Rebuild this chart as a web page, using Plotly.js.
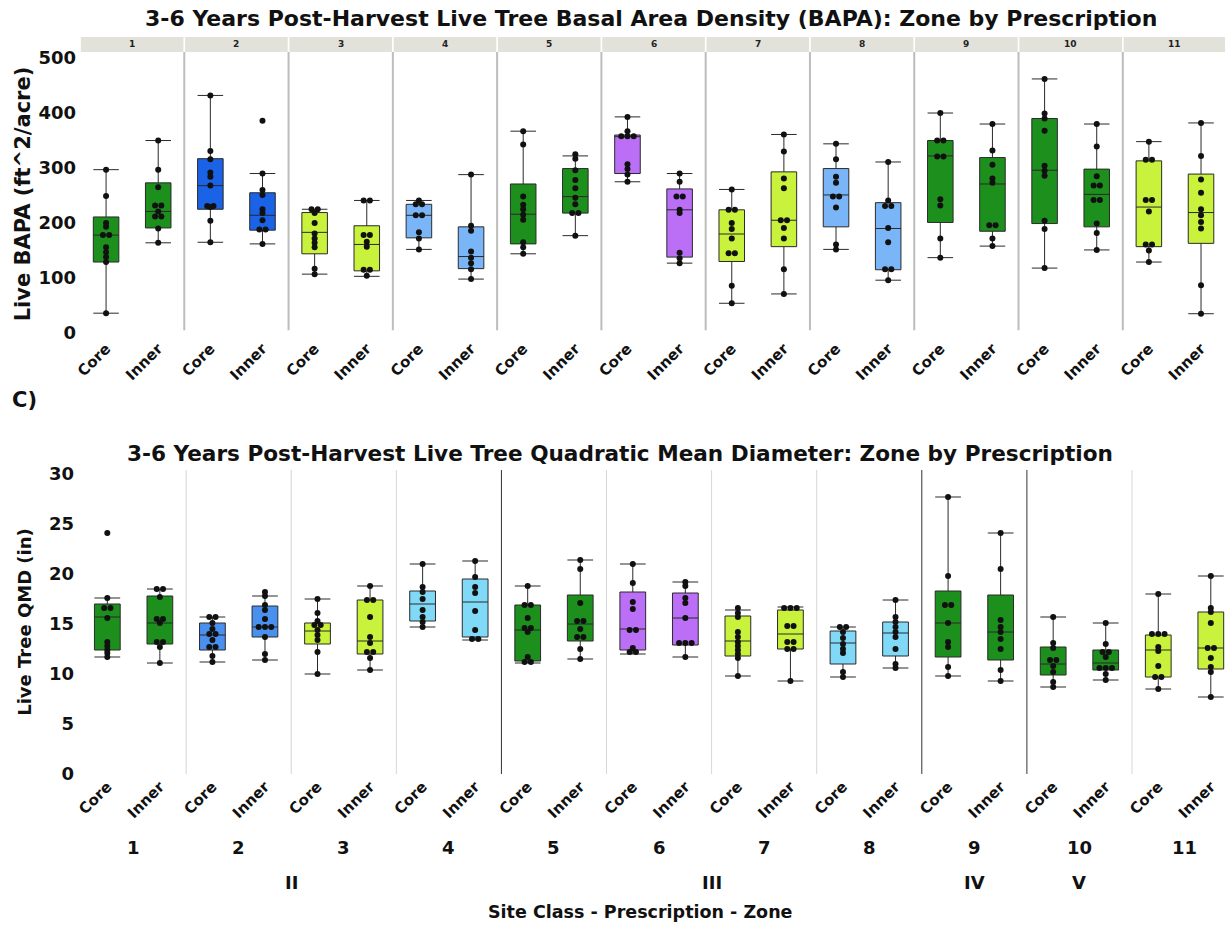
<!DOCTYPE html>
<html><head><meta charset="utf-8">
<script src="https://cdn.plot.ly/plotly-3.0.1.min.js"></script>
<style>body{margin:0;background:#fff}#chart{width:1225px;height:925px}</style>
</head><body><div id="chart"></div>
<script>
// ---------- categories ----------
const prescriptions = ['1','2','3','4','5','6','7','8','9','10','11'];
const zones = ['Core','Inner'];
const siteClassLabels = ['II','III','IV','V'];
const siteClassFirst = [1,5,9,10];
const siteClassLast  = [4,8,9,10];

// ---------- colours by prescription ----------
const bapaColors = ['#1d8f1d','#1a62e6','#c9f23c','#7ab6f7','#1d8f1d','#bb6ff7','#c9f23c','#7ab6f7','#1d8f1d','#1d8f1d','#c9f23c'];
const qmdColors  = ['#1d8f1d','#4a90ee','#c9f23c','#80d9f7','#1d8f1d','#bb6ff7','#c9f23c','#80d9f7','#1d8f1d','#1d8f1d','#c9f23c'];

// ---------- BAPA (ft^2/acre) ----------
const bapaCorePoints = [
  [297,249,200,193,178,178,156,147,138,129,36],
  [432,331,316,292,284,268,231,231,229,204,165],
  [225,225,218,200,181,172,164,156,117,107],
  [241,234,234,214,214,183,172,152],
  [367,343,248,233,225,215,206,165,156,144],
  [393,367,358,358,358,307,298,288,275],
  [261,224,224,200,189,172,145,145,86,54],
  [344,316,284,273,248,248,228,161,152],
  [400,350,350,321,321,243,232,172,137],
  [462,399,390,368,304,295,286,204,189,118],
  [348,315,315,242,242,221,161,161,150,129]
];
const bapaInnerPoints = [
  [350,297,265,232,232,221,212,212,190,164],
  [386,290,260,251,225,218,205,188,188,162],
  [241,241,178,178,166,157,115,115,104],
  [288,195,186,148,137,127,116,98],
  [325,317,296,278,263,246,234,218,218,177],
  [290,275,248,248,224,218,146,136,127],
  [361,330,281,263,205,205,191,172,116,71],
  [311,241,231,231,191,165,116,116,96],
  [380,332,306,281,273,196,196,172,158],
  [380,339,285,268,268,242,242,199,182,151],
  [382,322,279,255,225,214,202,190,87,35]
];
const bapaCoreLow    = [36,165,107,152,144,275,54,152,137,118,129];
const bapaCoreQ1     = [129,225,144,173,162,290,130,193,201,199,157];
const bapaCoreMedian = [178,268,183,214,216,357,180,251,322,296,229];
const bapaCoreQ3     = [211,317,219,234,271,360,224,299,350,390,313];
const bapaCoreHigh   = [297,432,225,241,367,393,261,344,400,462,348];
const bapaInnerLow    = [164,162,103,98,177,127,71,96,158,151,35];
const bapaInnerQ1     = [191,187,113,117,218,138,157,115,185,193,163];
const bapaInnerMedian = [221,214,161,139,248,224,205,190,271,252,219];
const bapaInnerQ3     = [273,255,195,193,299,262,293,237,319,298,289];
const bapaInnerHigh   = [350,290,241,288,322,290,361,311,380,380,382];

// ---------- QMD (in) ----------
const qmdCorePoints = [
  [24.1,17.6,16.6,16.6,15.6,13.2,12.8,12.4,12.1,11.7],
  [15.7,15.7,15.1,14.5,14.0,14.0,13.4,12.7,12.7,11.8,11.2],
  [17.5,16.1,15.3,14.9,14.9,14.4,13.9,13.4,12.2,10.0],
  [21.0,18.7,18.2,17.5,16.4,15.7,15.2,14.7],
  [18.8,16.9,16.9,15.6,14.6,14.6,14.2,11.7,11.2,11.2],
  [21.0,19.1,17.2,16.5,14.4,14.4,12.6,12.2,12.2],
  [16.6,16.1,15.7,14.2,13.7,13.2,12.8,12.4,12.0,11.6,9.8],
  [14.7,14.7,14.2,13.6,13.0,12.5,12.1,10.2,9.7],
  [27.7,19.8,16.9,16.9,15.1,13.2,12.7,10.7,9.8],
  [15.7,13.1,12.6,11.4,11.4,10.8,10.2,9.2,8.7],
  [18.0,14.0,14.0,14.0,12.7,12.3,10.8,9.7,9.7,8.5]
];
const qmdInnerPoints = [
  [18.5,18.5,17.7,15.5,15.5,15.1,13.2,13.2,12.7,11.1],
  [18.2,17.8,16.9,16.4,15.5,14.7,14.7,14.7,13.7,12.0,11.4],
  [18.8,17.4,17.4,15.7,13.7,13.1,12.2,12.2,11.6,10.4],
  [21.3,19.7,18.7,18.1,16.3,14.4,13.5,13.5],
  [21.4,20.5,17.1,15.3,15.3,14.5,13.7,13.7,12.5,11.5],
  [19.2,18.8,17.6,17.1,15.6,13.1,13.1,13.1,11.7],
  [16.6,16.6,16.6,14.8,14.8,13.2,13.2,12.5,12.5,9.3],
  [17.4,15.7,15.2,14.7,14.2,13.7,12.5,11.0,10.6],
  [24.1,20.5,15.4,14.7,14.2,13.5,12.5,10.4,9.3],
  [15.1,13.0,12.2,12.2,11.7,10.6,10.6,10.6,10.0,9.4],
  [19.8,16.6,16.2,15.1,12.6,12.6,11.6,10.7,10.2,7.7]
];
const qmdCoreLow    = [11.7,11.2,10.0,14.7,11.1,12.0,9.8,9.7,9.8,8.7,8.5];
const qmdCoreQ1     = [12.4,12.4,13.0,15.3,11.3,12.4,11.8,11.0,11.7,9.9,9.7];
const qmdCoreMedian = [15.7,13.9,14.3,17.0,14.4,14.5,13.3,13.1,15.1,11.0,12.4];
const qmdCoreQ3     = [17.0,15.1,15.1,18.3,16.9,18.2,15.8,14.3,18.3,12.7,13.9];
const qmdCoreHigh   = [17.6,15.7,17.5,21.0,18.8,21.0,16.4,14.7,27.7,15.7,18.0];
const qmdInnerLow    = [11.1,11.4,10.4,13.4,11.5,11.7,9.3,10.6,9.3,9.4,7.7];
const qmdInnerQ1     = [13.0,13.7,12.0,13.7,13.3,12.9,12.5,11.8,11.4,10.4,10.5];
const qmdInnerMedian = [15.1,14.7,13.3,17.2,15.0,15.6,14.0,14.1,14.2,11.1,12.6];
const qmdInnerQ3     = [17.8,16.8,17.4,19.5,17.9,18.1,16.4,15.2,17.9,12.4,16.2];
const qmdInnerHigh   = [18.5,17.8,18.8,21.3,21.4,19.2,16.7,17.4,24.1,15.1,19.8];

// ---------- build ----------
const FONT = 'DejaVu Sans, sans-serif';
const zoneOffset = [0.25, 0.75];
const boxWidth = 0.245;
const dotStep = 0.06;

function swarm(vals, center){
  const seen = {}, counts = {};
  vals.forEach(v => counts[v] = (counts[v]||0)+1);
  return vals.map(v => {
    const k = counts[v]; const i = seen[v] = (seen[v]===undefined?0:seen[v]+1);
    return center + (i-(k-1)/2)*dotStep;
  });
}

const traces = [];
function addPanel(xa, ya, colors, stats){
  const px = [], py = [];
  prescriptions.forEach((p, i) => {
    stats.forEach((s, z) => {
      const xpos = i + zoneOffset[z];
      traces.push({
        type:'box', xaxis:xa, yaxis:ya, x:[xpos],
        q1:[s.q1[i]], median:[s.med[i]], q3:[s.q3[i]],
        lowerfence:[s.lo[i]], upperfence:[s.hi[i]],
        width:boxWidth, whiskerwidth:1, boxpoints:false,
        fillcolor:colors[i], line:{color:'#2a2a2a', width:1},
        hoverinfo:'skip', showlegend:false
      });
      const xs = swarm(s.pts[i], xpos);
      px.push(...xs); py.push(...s.pts[i]);
    });
  });
  traces.push({type:'scatter', mode:'markers', xaxis:xa, yaxis:ya, x:px, y:py,
    marker:{color:'#111', size:6}, hoverinfo:'skip', showlegend:false});
}
addPanel('x','y', bapaColors, [
  {pts:bapaCorePoints, lo:bapaCoreLow, q1:bapaCoreQ1, med:bapaCoreMedian, q3:bapaCoreQ3, hi:bapaCoreHigh},
  {pts:bapaInnerPoints, lo:bapaInnerLow, q1:bapaInnerQ1, med:bapaInnerMedian, q3:bapaInnerQ3, hi:bapaInnerHigh}
]);
addPanel('x2','y2', qmdColors, [
  {pts:qmdCorePoints, lo:qmdCoreLow, q1:qmdCoreQ1, med:qmdCoreMedian, q3:qmdCoreQ3, hi:qmdCoreHigh},
  {pts:qmdInnerPoints, lo:qmdInnerLow, q1:qmdInnerQ1, med:qmdInnerMedian, q3:qmdInnerQ3, hi:qmdInnerHigh}
]);

const tickvals = [], ticktext = [];
prescriptions.forEach((p,i) => zones.forEach((z,k) => { tickvals.push(i+zoneOffset[k]); ticktext.push(z); }));

const H = 925;
const py = px => 1 - px/H;
const shapes = [], annotations = [];

// top strip + separators
prescriptions.forEach((p,i) => {
  shapes.push({type:'rect', xref:'x', yref:'paper', x0:i+0.008, x1:i+0.992, y0:py(52), y1:py(37),
    fillcolor:'#e2e2da', line:{width:0}, layer:'below'});
  annotations.push({xref:'x', yref:'paper', x:i+0.5, y:py(44.5), text:'<b>'+p+'</b>', showarrow:false,
    font:{family:FONT, size:9, color:'#222'}, yanchor:'middle'});
  if (i>0) {
    shapes.push({type:'line', xref:'x', yref:'y domain', x0:i, x1:i, y0:0.02, y1:1,
      line:{color:'#bdbdbd', width:2}, layer:'below'});
    const isClass = siteClassFirst.includes(i+1) ;
    shapes.push({type:'line', xref:'x2', yref:'y2 domain', x0:i, x1:i, y0:0, y1:1,
      line:{color: isClass ? '#333' : '#d6d6d6', width:1}, layer:'below'});
  }
  annotations.push({xref:'x2', yref:'paper', x:i+0.5, y:py(847), text:'<b>'+p+'</b>', showarrow:false,
    font:{family:FONT, size:18, color:'#111'}, yanchor:'middle'});
});
siteClassLabels.forEach((s,k) => {
  annotations.push({xref:'x2', yref:'paper', x:(siteClassFirst[k]-1+siteClassLast[k])/2, y:py(882),
    text:'<b>'+s+'</b>', showarrow:false, font:{family:FONT, size:18, color:'#111'}, yanchor:'middle'});
});
annotations.push({xref:'paper', yref:'paper', x:(651-80)/1145, y:py(18), yanchor:'middle',
  text:'<b>3-6 Years Post-Harvest Live Tree Basal Area Density (BAPA): Zone by Prescription</b>',
  showarrow:false, font:{family:FONT, size:22, color:'#111'}});
annotations.push({xref:'paper', yref:'paper', x:(620-80)/1145, y:py(453), yanchor:'middle',
  text:'<b>3-6 Years Post-Harvest Live Tree Quadratic Mean Diameter: Zone by Prescription</b>',
  showarrow:false, font:{family:FONT, size:21.6, color:'#111'}});
annotations.push({xref:'paper', yref:'paper', x:(640-80)/1145, y:py(912), yanchor:'middle',
  text:'<b>Site Class - Prescription - Zone</b>', showarrow:false, font:{family:FONT, size:17.5, color:'#111'}});
annotations.push({xref:'paper', yref:'paper', x:(10-80)/1145, y:py(400), xanchor:'left', yanchor:'middle',
  text:'<b>C)</b>', showarrow:false, font:{family:FONT, size:21, color:'#111'}});

const xBase = {tickvals, ticktext, tickangle:-45, tickfont:{family:FONT, size:15, color:'#111', weight:'bold'},
  showgrid:false, zeroline:false, showline:false, ticks:''};
const layout = {
  width:1225, height:925, margin:{l:80, r:0, t:0, b:0},
  paper_bgcolor:'#fff', plot_bgcolor:'#fff', showlegend:false, boxmode:'overlay',
  font:{family:FONT},
  xaxis:Object.assign({}, xBase, {anchor:'y', domain:[0,1], range:[0,10.98]}),
  yaxis:{anchor:'x', domain:[py(336), py(52)], range:[-5.5,511], tickvals:[0,100,200,300,400,500],
    tickfont:{family:FONT, size:18, color:'#111', weight:'bold'}, showgrid:false, zeroline:false, ticks:'',
    ticklabelstandoff:3,
    title:{text:'<b>Live BAPA (ft^2/acre)</b>', font:{family:FONT, size:21, color:'#111'}, standoff:2}},
  xaxis2:Object.assign({}, xBase, {anchor:'y2', domain:[0,1], range:[-0.01,10.885]}),
  yaxis2:{anchor:'x2', domain:[py(774), py(470)], range:[0,30.4], tickvals:[0,5,10,15,20,25,30],
    tickfont:{family:FONT, size:18, color:'#111', weight:'bold'}, showgrid:false, zeroline:false, ticks:'',
    ticklabelstandoff:5,
    title:{text:'<b>Live Tree QMD (in)</b>', font:{family:FONT, size:18, color:'#111'}, standoff:12}},
  shapes, annotations
};
Plotly.newPlot('chart', traces, layout, {displayModeBar:false, staticPlot:true});
</script>
</body></html>
